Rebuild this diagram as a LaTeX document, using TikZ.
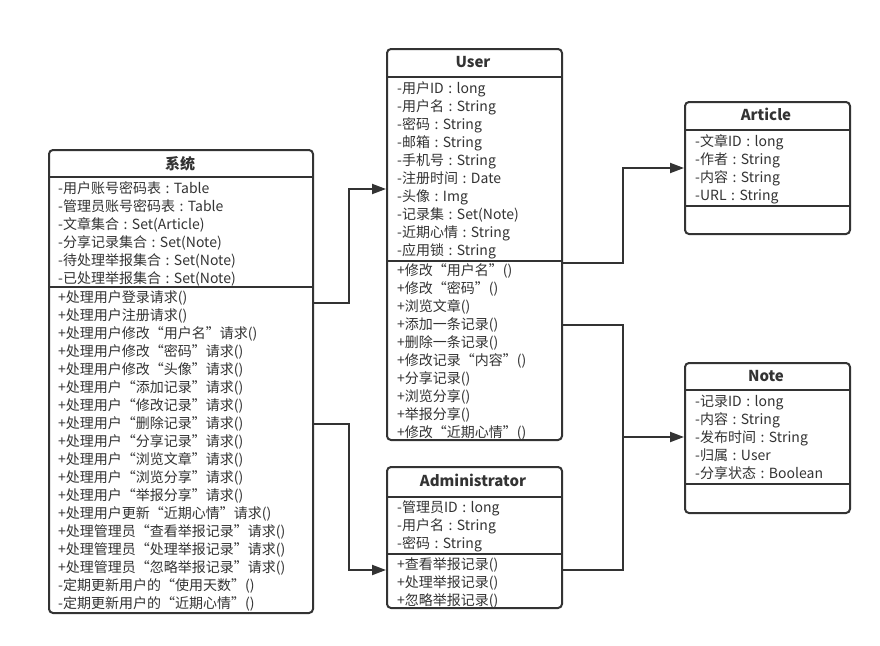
\documentclass[tikz,border=0pt]{standalone}
\usepackage{fontspec}
\setmainfont{Noto Sans CJK SC}
\usetikzlibrary{arrows.meta}
\definecolor{ink}{HTML}{333333}
% centred colon between an attribute name and its type
\newcommand\typesep{\hspace{4.5pt}:\hspace{4.5pt}}
\tikzset{
  classbox/.style={draw=ink, line width=2pt, rounded corners=4pt, inner sep=0pt, anchor=north west},
  rule/.style={draw=ink, line width=2pt},
  member/.style={anchor=west, inner sep=0pt, text=ink, text height=12.3pt, text depth=1.7pt,
    font=\fontsize{14}{16}\selectfont},
  classtitle/.style={inner sep=0pt, text=ink, text height=12.3pt, text depth=1.7pt,
    font=\fontsize{15}{18}\selectfont\bfseries},
  conn/.style={draw=ink, line width=2pt, -{Triangle[length=14pt,width=10pt]}},
  link/.style={draw=ink, line width=2pt},
}
\begin{document}
\begin{tikzpicture}[x=1pt, y=-1pt]
\useasboundingbox[fill=white] (0,0) rectangle (880,645);

% ---------- class boxes ----------
\node[classbox, minimum width=264pt, minimum height=463pt] (sys) at (48,149) {};
\node[classbox, minimum width=175pt, minimum height=391pt] (user) at (386,48) {};
\node[classbox, minimum width=165pt, minimum height=132pt] (article) at (684,101) {};
\node[classbox, minimum width=165pt, minimum height=150pt] (note) at (684,362) {};
\node[classbox, minimum width=175pt, minimum height=141pt] (admin) at (386,466) {};

% ---------- compartment rules ----------
\draw[rule] (sys.west |- 0,177) -- (sys.east |- 0,177);
\draw[rule] (sys.west |- 0,287) -- (sys.east |- 0,287);
\draw[rule] (user.west |- 0,77) -- (user.east |- 0,77);
\draw[rule] (user.west |- 0,261) -- (user.east |- 0,261);
\draw[rule] (article.west |- 0,130) -- (article.east |- 0,130);
\draw[rule] (article.west |- 0,206) -- (article.east |- 0,206);
\draw[rule] (note.west |- 0,390) -- (note.east |- 0,390);
\draw[rule] (note.west |- 0,484) -- (note.east |- 0,484);
\draw[rule] (admin.west |- 0,497) -- (admin.east |- 0,497);
\draw[rule] (admin.west |- 0,554) -- (admin.east |- 0,554);

% ---------- titles ----------
\node[classtitle] (sys-t) at (180,164) {系统};
\node[classtitle] (user-t) at (473,62) {User};
\node[classtitle] (article-t) at (766,115) {Article};
\node[classtitle] (note-t) at (766,376) {Note};
\node[classtitle] (admin-t) at (473,481) {Administrator};

% ---------- 系统 ----------
\foreach \t [count=\i] in {
  -用户账号密码表\typesep Table,
  -管理员账号密码表\typesep Table,
  -文章集合\typesep Set(Article),
  -分享记录集合\typesep Set(Note),
  -待处理举报集合\typesep Set(Note),
  -已处理举报集合\typesep Set(Note)}
  \node[member] (sys-a\i) at (58,{188+18*(\i-1)}) {\t};
\foreach \t [count=\i] in {
  +处理用户登录请求(),
  +处理用户注册请求(),
  +处理用户修改“用户名”请求(),
  +处理用户修改“密码”请求(),
  +处理用户修改“头像”请求(),
  +处理用户“添加记录”请求(),
  +处理用户“修改记录”请求(),
  +处理用户“删除记录”请求(),
  +处理用户“分享记录”请求(),
  +处理用户“浏览文章”请求(),
  +处理用户“浏览分享”请求(),
  +处理用户“举报分享”请求(),
  +处理用户更新“近期心情”请求(),
  +处理管理员“查看举报记录”请求(),
  +处理管理员“处理举报记录”请求(),
  +处理管理员“忽略举报记录”请求(),
  -定期更新用户的“使用天数”(),
  -定期更新用户的“近期心情”()}
  \node[member] (sys-m\i) at (58,{297+18*(\i-1)}) {\t};

% ---------- User ----------
\foreach \t [count=\i] in {
  -用户ID\typesep long,
  -用户名\typesep String,
  -密码\typesep String,
  -邮箱\typesep String,
  -手机号\typesep String,
  -注册时间\typesep Date,
  -头像\typesep Img,
  -记录集\typesep Set(Note),
  -近期心情\typesep String,
  -应用锁\typesep String}
  \node[member] (user-a\i) at (397,{88+18*(\i-1)}) {\t};
\foreach \t [count=\i] in {
  +修改“用户名”(),
  +修改“密码”(),
  +浏览文章(),
  +添加一条记录(),
  +删除一条记录(),
  +修改记录“内容”(),
  +分享记录(),
  +浏览分享(),
  +举报分享(),
  +修改“近期心情”()}
  \node[member] (user-m\i) at (397,{270+18*(\i-1)}) {\t};

% ---------- Article ----------
\foreach \t [count=\i] in {
  -文章ID\typesep long,
  -作者\typesep String,
  -内容\typesep String,
  -URL\typesep String}
  \node[member] (article-a\i) at (695,{141+18*(\i-1)}) {\t};

% ---------- Note ----------
\foreach \t [count=\i] in {
  -记录ID\typesep long,
  -内容\typesep String,
  -发布时间\typesep String,
  -归属\typesep User,
  -分享状态\typesep Boolean}
  \node[member] (note-a\i) at (695,{401+18*(\i-1)}) {\t};

% ---------- Administrator ----------
\foreach \t [count=\i] in {
  -管理员ID\typesep long,
  -用户名\typesep String,
  -密码\typesep String}
  \node[member] (admin-a\i) at (397,{507+18*(\i-1)}) {\t};
\foreach \t [count=\i] in {
  +查看举报记录(),
  +处理举报记录(),
  +忽略举报记录()}
  \node[member] (admin-m\i) at (397,{564+18*(\i-1)}) {\t};

% ---------- connectors ----------
\draw[conn] (sys.east |- 0,303) -- (349,303) -- (349,189) -- (user.west |- 0,189);
\draw[conn] (sys.east |- 0,424) -- (349,424) -- (349,570) -- (admin.west |- 0,570);
\draw[conn] (user.east |- 0,263) -- (623,263) -- (623,168) -- (article.west |- 0,168);
\draw[conn] (user.east |- 0,325) -- (623,325) -- (623,437) -- (note.west |- 0,437);
\draw[link] (admin.east |- 0,570) -- (623,570) -- (623,437);
\end{tikzpicture}
\end{document}
